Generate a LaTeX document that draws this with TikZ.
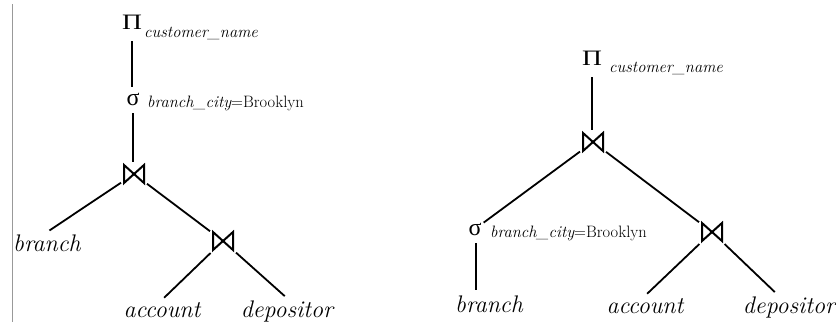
\documentclass[tikz,border=0pt]{standalone}
\usepackage{fontspec}
\usepackage{graphicx}
\newfontfamily\grkfont{Liberation Serif}
\begin{document}
\begin{tikzpicture}[x=1pt,y=-1pt,
  rel/.style={font=\fontsize{24}{28}\selectfont\itshape, inner sep=2pt},
  pinode/.style={font=\fontsize{22}{26}\selectfont\grkfont, inner sep=2pt, anchor=base},
  signode/.style={font=\fontsize{24}{28}\selectfont\grkfont, inner sep=2pt, anchor=base},
  sub/.style={font=\fontsize{16.5}{18}\selectfont, anchor=base west, inner sep=0pt},
  joinop/.style={minimum width=20pt, minimum height=18pt, inner sep=0pt, outer sep=3pt},
  bow/.style={line width=2pt, line join=miter},
  edge/.style={line width=1.8pt}]
\useasboundingbox (0,0) rectangle (836,322);
\draw[gray!80, line width=1pt] (12,4) -- (12,322);
% ---------- left tree ----------
\node[pinode] (p1) at (132,29) {\scalebox{1.25}[1]{Π}};
\node[sub] (p1s) at (144,37) {\itshape customer\_name};
\node[signode] (s1) at (133,105) {σ};
\node[sub] (s1s) at (147,107) {\itshape branch\_city\upshape=Brooklyn};
\node[joinop] (j1) at (134,174) {};
\node[rel, anchor=base west] (b1) at (11,251) {branch};
\node[joinop] (j2) at (223,241) {};
\node[rel, anchor=base] (a1) at (162,317) {account};
\node[rel, anchor=base] (d1) at (287,317) {depositor};
% ---------- right tree ----------
\node[pinode] (p2) at (592,65) {\scalebox{1.25}[1]{Π}};
\node[sub] (p2s) at (609,72) {\itshape customer\_name};
\node[joinop] (j3) at (593,142) {};
\node[signode] (s2) at (475,235) {σ};
\node[sub] (s2s) at (490,237) {\itshape branch\_city\upshape=Brooklyn};
\node[rel, anchor=base] (b2) at (489,312) {branch};
\node[joinop] (j4) at (712,232) {};
\node[rel, anchor=base] (a2) at (645,313) {account};
\node[rel, anchor=base] (d2) at (789,313) {depositor};
% bowties
\foreach \j in {j1,j2,j3,j4}
  \draw[bow] ([xshift=3pt,yshift=-3pt]\j.north west) -- ([xshift=3pt,yshift=3pt]\j.south west)
    -- ([xshift=-3pt,yshift=-3pt]\j.north east) -- ([xshift=-3pt,yshift=3pt]\j.south east) -- cycle;
% edges
\draw[edge, shorten <=10pt, shorten >=4pt] (p1.south) -- (p1.south |- s1.north);
\draw[edge, shorten <=6pt] (s1.south) -- (s1.south |- j1.north);
\draw[edge, shorten >=3pt] (j1) -- (b1.north);
\draw[edge] (j1) -- (j2);
\draw[edge, shorten >=3pt] (j2) -- (a1.north);
\draw[edge, shorten >=3pt] (j2) -- (d1.north);
\draw[edge, shorten <=10pt] (p2.south) -- (p2.south |- j3.north);
\draw[edge] (j3) -- (s2);
\draw[edge] (j3) -- (j4);
\draw[edge, shorten <=6pt, shorten >=3pt] ([xshift=1pt]s2.south) -- ([xshift=1pt]s2.south |- b2.north);
\draw[edge, shorten >=3pt] (j4) -- (a2.north);
\draw[edge, shorten >=3pt] (j4) -- ([xshift=-12pt]d2.north);
\end{tikzpicture}
\end{document}
